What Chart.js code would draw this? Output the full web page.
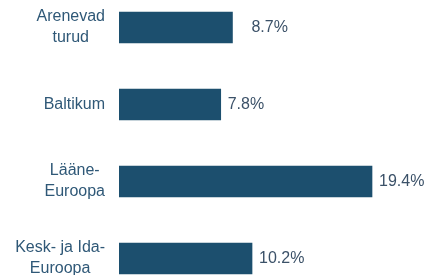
<!DOCTYPE html>
<html>
<head>
<meta charset="utf-8">
<script src="https://cdn.jsdelivr.net/npm/chart.js@4/dist/chart.umd.min.js"></script>
<style>
  html, body { margin: 0; padding: 0; background: #ffffff; overflow: hidden; width: 439px; height: 275px; }
  #c { position: absolute; left: 0; top: -11px; }
</style>
</head>
<body>
<canvas id="c" width="439" height="308" style="width:439px;height:308px"></canvas>
<script>
// Data
const categories = [["Arenevad", "turud"], ["Baltikum"], ["Lääne-", "Euroopa"], ["Kesk- ja Ida-", "Euroopa"]];
const values = [8.7, 7.8, 19.4, 10.2];
const valueLabels = ["8.7%", "7.8%", "19.4%", "10.2%"];

// Styles
const barColor = "#1c4f6e";
const categoryColor = "#2f5877";
const valueColor = "#3b5168";
const labelGap = [19, 7, 7, 7];
const fontFamily = "'Liberation Sans', Arial, sans-serif";
const lineSpacing = 21;

const valueLabelPlugin = {
  id: "valueLabels",
  afterDatasetsDraw(chart) {
    const ctx = chart.ctx;
    const meta = chart.getDatasetMeta(0);
    ctx.save();
    ctx.font = "16px " + fontFamily;
    ctx.fillStyle = valueColor;
    ctx.textAlign = "left";
    ctx.textBaseline = "middle";
    meta.data.forEach((bar, i) => {
      ctx.fillText(valueLabels[i], bar.x + labelGap[i], bar.y);
    });
    ctx.restore();
  }
};

// Category labels: block right-aligned to the axis, lines centred within the block
const categoryLabelPlugin = {
  id: "categoryLabels",
  afterDraw(chart) {
    const ctx = chart.ctx;
    const yScale = chart.scales.y;
    const right = yScale.right - 14;
    ctx.save();
    ctx.font = "16px " + fontFamily;
    ctx.fillStyle = categoryColor;
    ctx.textAlign = "center";
    ctx.textBaseline = "middle";
    chart.data.labels.forEach((lines, i) => {
      const y = yScale.getPixelForTick(i);
      const w = Math.max(...lines.map(l => ctx.measureText(l).width));
      const cx = right - w / 2;
      const start = y - (lines.length - 1) * lineSpacing / 2;
      lines.forEach((l, k) => ctx.fillText(l, cx, start + k * lineSpacing));
    });
    ctx.restore();
  }
};

new Chart(document.getElementById("c"), {
  type: "bar",
  data: {
    labels: categories,
    datasets: [{
      data: values,
      backgroundColor: barColor,
      borderWidth: 0,
      barThickness: 31
    }]
  },
  options: {
    indexAxis: "y",
    responsive: false,
    animation: false,
    layout: { padding: { left: 0, right: 7, top: 0, bottom: 0 } },
    plugins: { legend: { display: false }, tooltip: { enabled: false } },
    scales: {
      x: { display: false, min: 0, max: 24 },
      y: {
        grid: { display: false, drawTicks: false },
        border: { display: false },
        ticks: { display: false },
        afterFit(scale) { scale.width = 119; }
      }
    }
  },
  plugins: [valueLabelPlugin, categoryLabelPlugin]
});
</script>
</body>
</html>
